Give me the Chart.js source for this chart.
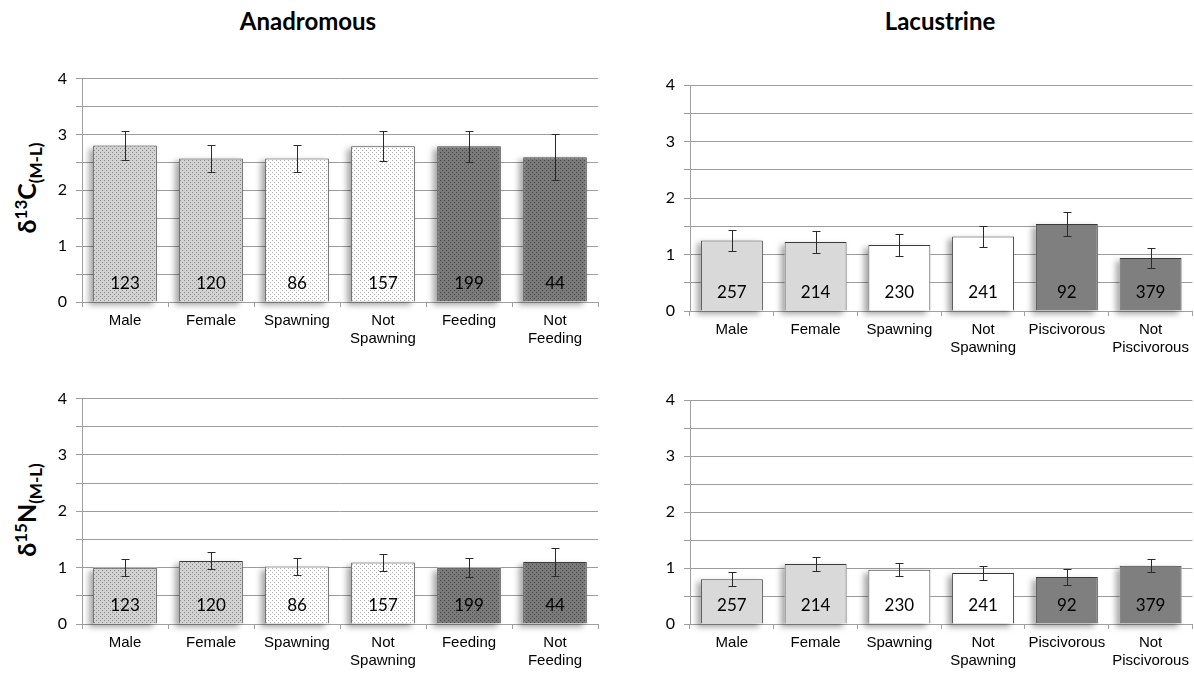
<!DOCTYPE html>
<html>
<head>
<meta charset="utf-8">
<script src="https://cdn.jsdelivr.net/npm/chart.js@4/dist/chart.umd.min.js"></script>
<style>
  html, body { margin: 0; padding: 0; background: #fff; }
  body { width: 1194px; height: 674px; position: relative; overflow: hidden; font-family: Lato, "Liberation Sans", sans-serif; }
  canvas { position: absolute; }
  .ptitle { position: absolute; top: 6px; font: bold 24px Lato, sans-serif; color: #000; text-align: center; width: 300px; }
  .ytitle { position: absolute; font: bold 25px Lato, sans-serif; color: #000; white-space: nowrap;
            transform: translate(-50%, -50%) rotate(-90deg); }
  .ytitle sup { font-size: 17px; vertical-align: 9px; }
  .ytitle sub { font-size: 17px; vertical-align: -6px; }
</style>
</head>
<body>
<div class="ptitle" style="left:158px;">Anadromous</div>
<div class="ptitle" style="left:790px;">Lacustrine</div>
<div class="ytitle" style="left:28px; top:188px;">δ<sup>13</sup>C<sub>(M-L)</sub></div>
<div class="ytitle" style="left:28px; top:510px;">δ<sup>15</sup>N<sub>(M-L)</sub></div>

<canvas id="c1" width="600" height="300" style="left:0px; top:60px;"></canvas>
<canvas id="c2" width="594" height="300" style="left:600px; top:60px;"></canvas>
<canvas id="c3" width="600" height="294" style="left:0px; top:380px;"></canvas>
<canvas id="c4" width="594" height="294" style="left:600px; top:380px;"></canvas>

<script>
// ---------- data ----------
const catsAnadromous = [['Male'], ['Female'], ['Spawning'], ['Not', 'Spawning'], ['Feeding'], ['Not', 'Feeding']];
const catsLacustrine = [['Male'], ['Female'], ['Spawning'], ['Not', 'Spawning'], ['Piscivorous'], ['Not', 'Piscivorous']];

const nAnadromous = [123, 120, 86, 157, 199, 44];
const nLacustrine = [257, 214, 230, 241, 92, 379];

const c13Anadromous    = [2.80, 2.57, 2.57, 2.79, 2.79, 2.59];
const c13AnadromousErr = [0.26, 0.25, 0.25, 0.27, 0.28, 0.41];
const c13Lacustrine    = [1.25, 1.22, 1.17, 1.32, 1.54, 0.94];
const c13LacustrineErr = [0.19, 0.19, 0.19, 0.19, 0.21, 0.18];

const n15Anadromous    = [1.00, 1.12, 1.02, 1.09, 1.00, 1.10];
const n15AnadromousErr = [0.145, 0.15, 0.155, 0.15, 0.165, 0.245];
const n15Lacustrine    = [0.80, 1.07, 0.97, 0.91, 0.84, 1.04];
const n15LacustrineErr = [0.125, 0.12, 0.12, 0.12, 0.145, 0.12];

const yTickValues = [0, 1, 2, 3, 4];

// ---------- fills ----------
function dotPattern(base, dot) {
  const c = document.createElement('canvas');
  c.width = 4; c.height = 4;
  const x = c.getContext('2d');
  x.fillStyle = base; x.fillRect(0, 0, 4, 4);
  x.fillStyle = dot;
  x.fillRect(0, 0, 1, 1);
  x.fillRect(2, 2, 1, 1);
  return x.createPattern(c, 'repeat');
}
const pLight = dotPattern('#d2d2d2', '#888888');
const pWhite = dotPattern('#ffffff', '#adadad');
const pDark  = dotPattern('#7a7a7a', '#474747');
const fillsAnadromous = [pLight, pLight, pWhite, pWhite, pDark, pDark];
const fillsLacustrine = ['#d9d9d9', '#d9d9d9', '#ffffff', '#ffffff', '#7f7f7f', '#7f7f7f'];

// ---------- plugins ----------
const shadowPlugin = {
  id: 'barShadow',
  beforeDatasetsDraw(chart) {
    const ctx = chart.ctx;
    const meta = chart.getDatasetMeta(0);
    ctx.save();
    ctx.shadowColor = 'rgba(0,0,0,0.35)';
    ctx.shadowBlur = 6;
    ctx.shadowOffsetX = -4;
    ctx.shadowOffsetY = 3;
    ctx.fillStyle = '#ffffff';
    meta.data.forEach(bar => {
      const w = bar.width;
      ctx.fillRect(bar.x - w / 2, bar.y, w, bar.base - bar.y);
    });
    ctx.restore();
  }
};

const errorPlugin = {
  id: 'errBars',
  afterDatasetsDraw(chart, args, opts) {
    const ctx = chart.ctx;
    const meta = chart.getDatasetMeta(0);
    const ys = chart.scales.y;
    const vals = chart.data.datasets[0].data;
    ctx.save();
    ctx.strokeStyle = '#2a2a2a';
    ctx.lineWidth = 1;
    meta.data.forEach((bar, i) => {
      const e = opts.errors[i];
      const top = Math.round(ys.getPixelForValue(vals[i] + e)) + 0.5;
      const bot = Math.round(ys.getPixelForValue(vals[i] - e)) + 0.5;
      const x = Math.round(bar.x) + 0.5;
      ctx.beginPath();
      ctx.moveTo(x, top); ctx.lineTo(x, bot);
      ctx.moveTo(x - 4, top); ctx.lineTo(x + 4, top);
      ctx.moveTo(x - 4, bot); ctx.lineTo(x + 4, bot);
      ctx.stroke();
    });
    // sample sizes inside bars
    ctx.fillStyle = '#000';
    ctx.font = '17px Lato, sans-serif';
    ctx.textAlign = 'center';
    ctx.textBaseline = 'middle';
    const y0 = ys.getPixelForValue(0);
    meta.data.forEach((bar, i) => {
      ctx.fillText(String(opts.counts[i]), bar.x, y0 - 18);
    });
    ctx.restore();
  }
};

function makeChart(id, cats, vals, errs, counts, fills, lay) {
  return new Chart(document.getElementById(id), {
    type: 'bar',
    data: {
      labels: cats,
      datasets: [{
        data: vals,
        backgroundColor: fills,
        borderColor: '#3a3a3a',
        borderWidth: 1,
        categoryPercentage: 1.0,
        barPercentage: 0.74
      }]
    },
    options: {
      responsive: false,
      animation: false,
      devicePixelRatio: 1,
      layout: { padding: { top: lay.top, right: lay.right, left: 0, bottom: 0 } },
      plugins: {
        legend: { display: false },
        tooltip: { enabled: false },
        errBars: { errors: errs, counts: counts }
      },
      scales: {
        x: {
          afterFit(s) { s.height = lay.xh; },
          grid: { display: true, drawOnChartArea: false, offset: true, color: '#a0a0a0', tickLength: 5 },
          border: { display: true, color: '#a0a0a0' },
          ticks: {
            color: '#000',
            font: { family: '"Liberation Sans", Arial, sans-serif', size: 15, lineHeight: 1.2 },
            padding: 5,
            maxRotation: 0, autoSkip: false
          }
        },
        y: {
          min: 0, max: 4,
          afterFit(s) { s.width = lay.yw; },
          afterBuildTicks(s) {
            const t = [];
            for (let v = 0; v <= 4; v += 0.5) t.push({ value: v });
            s.ticks = t;
          },
          grid: { color: '#9c9c9c', lineWidth: 1, tickLength: 6 },
          border: { display: true, color: '#a0a0a0' },
          ticks: {
            color: '#000',
            padding: 9,
            font: { family: 'Lato, sans-serif', size: 16 },
            callback: v => (yTickValues.includes(v) ? String(v) : '')
          }
        }
      }
    },
    plugins: [shadowPlugin, errorPlugin]
  });
}

makeChart('c1', catsAnadromous, c13Anadromous, c13AnadromousErr, nAnadromous, fillsAnadromous, { top: 16, right: 2, xh: 58, yw: 82 });
makeChart('c2', catsLacustrine, c13Lacustrine, c13LacustrineErr, nLacustrine, fillsLacustrine, { top: 25, right: 1, xh: 49, yw: 90 });
makeChart('c3', catsAnadromous, n15Anadromous, n15AnadromousErr, nAnadromous, fillsAnadromous, { top: 18, right: 2, xh: 50, yw: 82 });
makeChart('c4', catsLacustrine, n15Lacustrine, n15LacustrineErr, nLacustrine, fillsLacustrine, { top: 20, right: 1, xh: 50, yw: 90 });
</script>
</body>
</html>
